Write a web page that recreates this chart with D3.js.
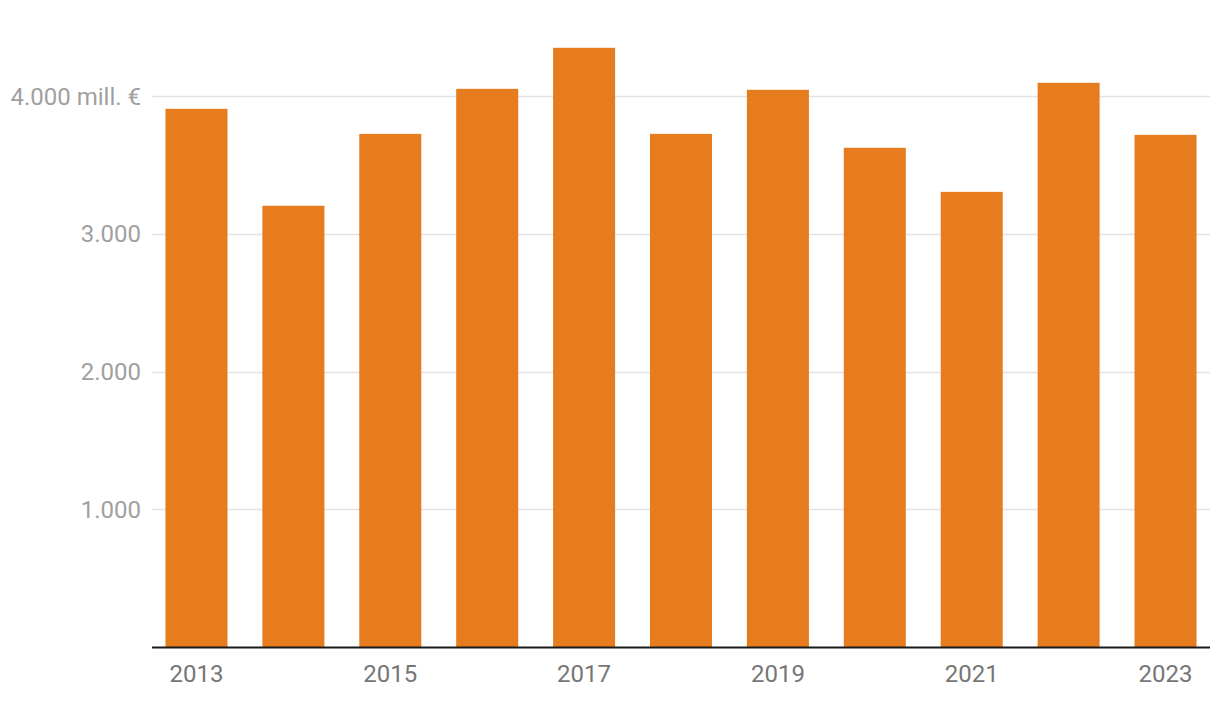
<!DOCTYPE html>
<html>
<head>
<meta charset="utf-8">
<script src="https://cdn.jsdelivr.net/npm/d3@7"></script>
<style>
  html, body { margin: 0; padding: 0; background: #fff; }
  svg { display: block; font-family: Roboto, sans-serif; }
</style>
</head>
<body>
<svg id="chart" width="1220" height="704"></svg>
<script>
const years = ["2013","2014","2015","2016","2017","2018","2019","2020","2021","2022","2023"];
const values = [3907, 3203, 3725, 4052, 4350, 3725, 4045, 3624, 3304, 4096, 3718];
const yTicks = [1000, 2000, 3000, 4000];
const xTickLabels = ["2013","2015","2017","2019","2021","2023"];

(function () {
const svg = d3.select("#chart");
const mLeft = 152, mRight = 1210, mBottom = 647, y4000 = 96;

const x = d3.scaleBand().domain(years).range([mLeft, mRight]).paddingInner(0.36).paddingOuter(0.139);
const y = d3.scaleLinear().domain([0, 4000]).range([mBottom, y4000]);

const fmt = v => d3.format(",")(v).replace(/,/g, ".");

// gridlines
svg.append("g").selectAll("line").data(yTicks).join("line")
  .attr("x1", mLeft).attr("x2", mRight)
  .attr("y1", d => Math.round(y(d)) + 0.5).attr("y2", d => Math.round(y(d)) + 0.5)
  .attr("stroke", "#e3e3e3").attr("stroke-width", 1.5);

// y labels
svg.append("g").selectAll("text").data(yTicks).join("text")
  .attr("x", 141).attr("y", d => y(d))
  .attr("dy", "0.36em")
  .attr("text-anchor", "end")
  .attr("fill", "#a0a0a0")
  .attr("font-size", 24)
  .text(d => d === 4000 ? fmt(d) + " mill. €" : fmt(d));

// bars
svg.append("g").selectAll("rect").data(years).join("rect")
  .attr("x", d => x(d)).attr("width", x.bandwidth())
  .attr("y", (d, i) => y(values[i]))
  .attr("height", (d, i) => mBottom - y(values[i]))
  .attr("fill", "#e77c1f");

// x axis line
svg.append("line").attr("x1", mLeft).attr("x2", mRight)
  .attr("y1", mBottom + 0.5).attr("y2", mBottom + 0.5)
  .attr("stroke", "#1a1a1a").attr("stroke-width", 2);

// x labels
svg.append("g").selectAll("text").data(xTickLabels).join("text")
  .attr("x", d => x(d) + x.bandwidth() / 2)
  .attr("y", 673).attr("dy", "0.36em")
  .attr("text-anchor", "middle")
  .attr("fill", "#767676")
  .attr("font-size", 24)
  .text(d => d);
})();
</script>
</body>
</html>
